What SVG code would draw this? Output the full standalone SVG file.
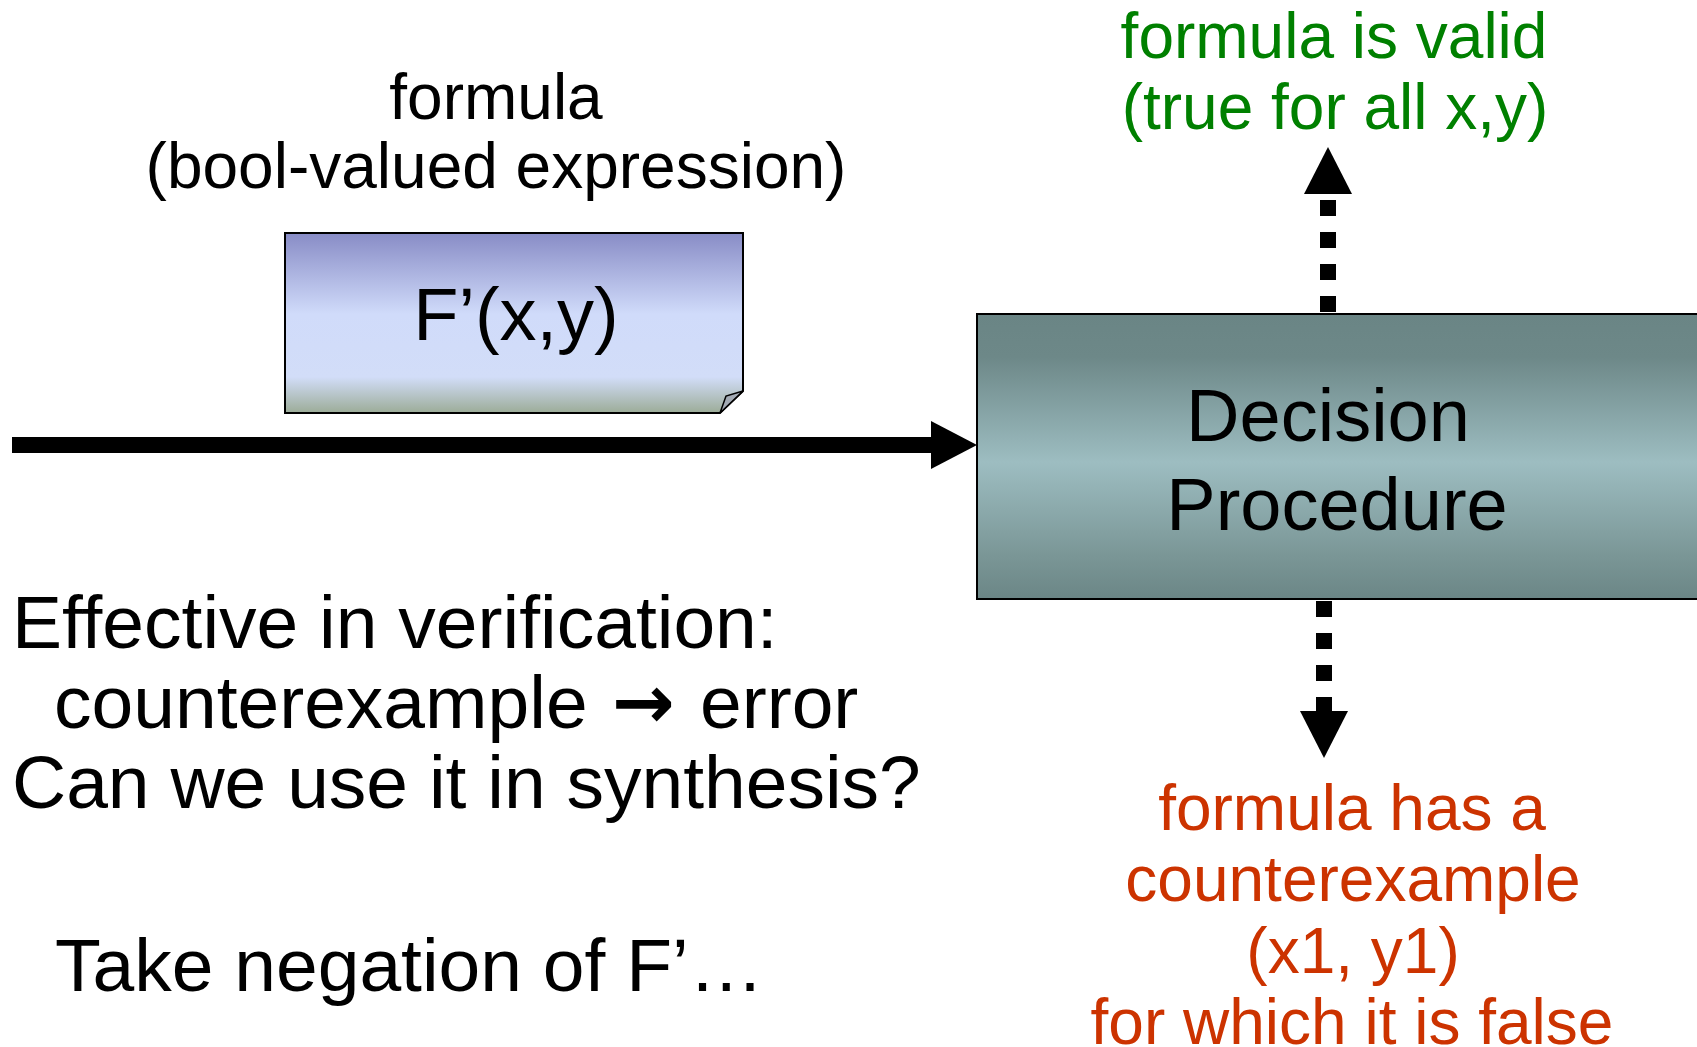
<svg xmlns="http://www.w3.org/2000/svg" width="1697" height="1047" viewBox="0 0 1697 1047">
<style>
text{font-family:"Liberation Sans",Arial,sans-serif}
.lbl{font-size:64px;text-anchor:middle}
.big{font-size:75px}
.green{fill:#008000}
.red{fill:#cc3300}
.dash{fill:none;stroke:#000;stroke-width:16;stroke-dasharray:16 16}
.arr{font-family:"DejaVu Sans",sans-serif;font-weight:bold}
</style>
<defs>
<linearGradient id="gNote" x1="0" y1="0" x2="0" y2="1">
<stop offset="0" stop-color="#888cc6"/>
<stop offset="0.45" stop-color="#d0dbfa"/>
<stop offset="0.8" stop-color="#d2ddf8"/>
<stop offset="1" stop-color="#9cac98"/>
</linearGradient>
<linearGradient id="gBox" x1="0" y1="0" x2="0" y2="1">
<stop offset="0" stop-color="#6a8585"/>
<stop offset="0.15" stop-color="#6d8888"/>
<stop offset="0.52" stop-color="#9dbdc1"/>
<stop offset="0.85" stop-color="#7a9696"/>
<stop offset="1" stop-color="#6b8686"/>
</linearGradient>
</defs>

<g id="label-formula">
<text class="lbl" x="496" y="119">formula</text>
<text class="lbl" x="496" y="188">(bool-valued expression)</text>
</g>

<g id="note">
<path d="M285,233 H743 V391 L720,413 H285 Z" fill="url(#gNote)" stroke="#000" stroke-width="2"/>
<path d="M743,391 L726,396 L720,413 Z" fill="#a3aab4" stroke="#000" stroke-width="1.5"/>
<text x="516" y="340" font-size="74" text-anchor="middle">F’(x,y)</text>
</g>

<g id="decision">
<rect x="977" y="314" width="740" height="285" fill="url(#gBox)" stroke="#000" stroke-width="2"/>
<text x="1328" y="441" font-size="74" text-anchor="middle">Decision</text>
<text x="1337" y="530" font-size="74" text-anchor="middle">Procedure</text>
</g>

<g id="connectors">
<line x1="12" y1="445" x2="935" y2="445" stroke="#000" stroke-width="16"/>
<polygon points="931,421 977,445 931,469" fill="#000"/>
<path class="dash" d="M1328,312 V200"/>
<polygon points="1304,194 1352,194 1328,147" fill="#000"/>
<path class="dash" d="M1324,601 V711"/>
<polygon points="1300,711 1348,711 1324,758" fill="#000"/>
</g>

<g id="label-valid">
<text class="lbl green" x="1334" y="58">formula is valid</text>
<text class="lbl green" x="1335" y="129">(true for all x,y)</text>
</g>

<g id="label-counter">
<text class="lbl red" x="1352" y="830">formula has a</text>
<text class="lbl red" x="1353" y="901">counterexample</text>
<text class="lbl red" x="1353" y="973">(x1, y1)</text>
<text class="lbl red" x="1352" y="1044">for which it is false</text>
</g>

<g id="notes-left">
<text class="big" x="12" y="648">Effective in verification:</text>
<text class="big" x="54" y="728">counterexample <tspan class="arr" x="612">→</tspan> <tspan x="700">error</tspan></text>
<text class="big" x="12" y="808">Can we use it in synthesis?</text>
<text class="big" x="55" y="991">Take negation of F’…</text>
</g>
</svg>
